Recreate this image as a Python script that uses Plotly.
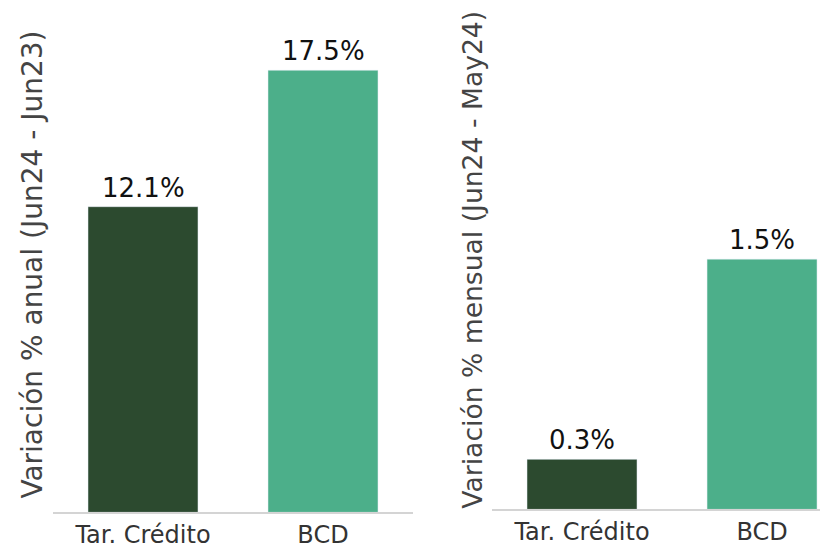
import plotly.graph_objects as go

categories = ["Tar. Crédito", "BCD"]
anual_values = [12.1, 17.5]
mensual_values = [0.3, 1.5]
bar_colors = ["#2c4a2f", "#4caf8a"]
anual_title = "Variación % anual (Jun24 - Jun23)"
mensual_title = "Variación % mensual (Jun24 - May24)"

FONT = "DejaVu Sans"
W, H = 820, 549

fig = go.Figure()
fig.add_trace(go.Bar(x=categories, y=anual_values, marker_color=bar_colors,
                     xaxis="x", yaxis="y", hoverinfo="skip"))
fig.add_trace(go.Bar(x=categories, y=mensual_values, marker_color=bar_colors,
                     xaxis="x2", yaxis="y2", hoverinfo="skip"))

annotations = []
for c, v in zip(categories, anual_values):
    annotations.append(dict(x=c, y=v, xref="x", yref="y", text=f"{v:.1f}%",
                            showarrow=False, yanchor="bottom", yshift=2,
                            font=dict(family=FONT, size=26, color="#111")))
for c, v in zip(categories, mensual_values):
    annotations.append(dict(x=c, y=v, xref="x2", yref="y2", text=f"{v:.1f}%",
                            showarrow=False, yanchor="bottom", yshift=2,
                            font=dict(family=FONT, size=26, color="#111")))
annotations.append(dict(x=33 / W, y=1 - 267.5 / H, xref="paper", yref="paper",
                        text=anual_title, textangle=-90, showarrow=False,
                        xanchor="center", yanchor="middle",
                        font=dict(family=FONT, size=28, color="#444")))
annotations.append(dict(x=473 / W, y=1 - 262.5 / H, xref="paper", yref="paper",
                        text=mensual_title, textangle=-90, showarrow=False,
                        xanchor="center", yanchor="middle",
                        font=dict(family=FONT, size=26.6, color="#444")))

xcommon = dict(type="category", showline=True, linecolor="#d4d4d4", linewidth=2,
               ticks="", showgrid=False, zeroline=False,
               tickfont=dict(family=FONT, size=24, color="#333"))
ycommon = dict(showline=False, showgrid=False, zeroline=False, showticklabels=False,
               ticks="")

fig.update_layout(
    width=W, height=H,
    margin=dict(l=0, r=0, t=0, b=0),
    paper_bgcolor="white", plot_bgcolor="white",
    showlegend=False, bargap=0.389,
    xaxis=dict(domain=[53 / W, 413 / W], range=[-0.5, 1.5], anchor="y", **xcommon),
    yaxis=dict(domain=[31 / H, 1], range=[0, 518 / 25.54], anchor="x", **ycommon),
    xaxis2=dict(domain=[492 / W, 1], range=[-0.5, 1.322], anchor="y2", **xcommon),
    yaxis2=dict(domain=[34 / H, 1], range=[0, 515 / 168.67], anchor="x2", **ycommon),
    annotations=annotations,
)

fig.write_html("out.html", config={"displayModeBar": False},
               post_script="document.body.style.margin='0';document.body.style.overflow='hidden';")
